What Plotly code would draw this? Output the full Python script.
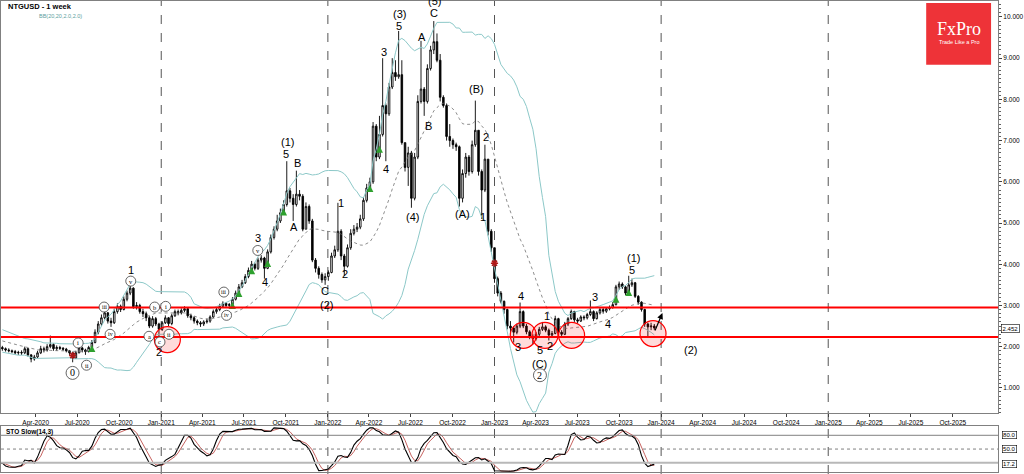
import plotly.graph_objects as go
import pandas as pd
import numpy as np

# ---------------- data (weekly NTGUSD) ----------------
# warm-up weeks before the visible window (for Bollinger / stochastic)
pre_close = [2.38, 2.32, 2.40, 2.28, 2.22, 2.30, 2.18, 2.12, 2.20, 2.08,
             2.15, 2.04, 2.10, 2.00, 2.06, 2.02, 1.97, 2.03, 1.98]
pre_high = [2.45, 2.42, 2.46, 2.42, 2.32, 2.36, 2.32, 2.22, 2.26, 2.22,
            2.20, 2.16, 2.14, 2.12, 2.10, 2.08, 2.05, 2.07, 2.06]
pre_low = [2.28, 2.26, 2.30, 2.24, 2.16, 2.20, 2.14, 2.06, 2.10, 2.03,
           2.05, 1.98, 2.02, 1.94, 1.98, 1.95, 1.90, 1.95, 1.93]

close = [1.95, 1.92, 1.90, 1.88, 1.85, 1.86, 1.85, 1.95, 1.80, 1.70,
         1.75, 1.85, 1.95, 1.92, 2.00, 2.05, 1.95, 1.98, 1.96, 1.94,
         1.90, 1.85, 1.72, 1.85, 1.97, 1.92, 1.88, 1.98, 2.10, 2.35,
         2.55, 2.70, 2.82, 2.62, 2.58, 2.85, 2.98, 2.90, 3.15, 3.30,
         3.42, 2.97, 3.00, 2.85, 2.80, 2.70, 2.50, 2.68, 2.55, 2.42,
         2.58, 2.70, 2.56, 2.75, 2.85, 2.82, 2.88, 2.92, 2.75, 2.70,
         2.62, 2.58, 2.55, 2.60, 2.62, 2.72, 2.85, 2.90, 2.98, 3.05,
         3.00, 3.02, 3.15, 3.30, 3.45, 3.55, 3.70, 3.85, 4.00, 3.90,
         4.10, 4.15, 3.90, 4.30, 4.65, 4.85, 5.05, 5.25, 5.45, 5.78,
         5.60, 5.45, 5.70, 5.65, 4.85, 5.40, 5.05, 4.10, 3.90, 3.75,
         3.62, 3.70, 3.80, 4.20, 4.35, 4.80, 4.20, 3.95, 4.40, 4.75,
         4.85, 4.90, 5.10, 5.55, 5.85, 6.00, 7.35, 6.60, 7.15, 7.85,
         7.65, 8.30, 8.65, 8.55, 8.60, 6.95, 6.35, 6.70, 5.60, 6.60,
         7.95, 8.25, 7.95, 8.75, 9.20, 9.40, 8.95, 8.05, 7.85, 7.10,
         7.00, 6.90, 6.85, 5.60, 6.20, 6.60, 6.25, 6.90, 7.25, 6.25,
         5.80, 6.55, 4.80, 4.40, 3.65, 3.30, 3.10, 2.90, 2.50, 2.45,
         2.35, 2.50, 2.85, 2.50, 2.36, 2.25, 2.20, 2.30, 2.42, 2.48,
         2.40, 2.28, 2.32, 2.68, 2.35, 2.30, 2.55, 2.68, 2.85, 2.65,
         2.62, 2.72, 2.70, 2.78, 2.85, 2.68, 2.82, 2.90, 2.86, 2.92,
         2.95, 3.02, 3.45, 3.52, 3.45, 3.30, 3.50, 3.55, 3.22, 3.08,
         2.90, 2.55, 2.48, 2.50, 2.452]

high = [2.02, 1.98, 1.96, 1.93, 1.92, 1.90, 1.91, 2.00, 1.97, 1.82,
        1.80, 1.90, 2.02, 2.00, 2.06, 2.27, 2.08, 2.03, 2.02, 1.99,
        1.97, 1.92, 1.88, 1.90, 2.05, 2.00, 1.95, 2.02, 2.16, 2.42,
        2.62, 2.78, 2.90, 2.84, 2.70, 2.92, 3.05, 3.02, 3.22, 3.36,
        3.50, 3.44, 3.08, 3.04, 2.92, 2.85, 2.74, 2.74, 2.72, 2.58,
        2.62, 2.76, 2.72, 2.80, 2.90, 2.90, 2.93, 2.98, 2.95, 2.80,
        2.74, 2.66, 2.62, 2.64, 2.68, 2.76, 2.90, 2.95, 3.04, 3.10,
        3.08, 3.06, 3.20, 3.36, 3.52, 3.62, 3.76, 3.92, 4.08, 4.04,
        4.16, 4.22, 4.18, 4.36, 4.72, 4.92, 5.20, 5.35, 5.55, 6.50,
        5.85, 5.70, 6.27, 5.80, 5.70, 5.50, 5.45, 5.10, 4.15, 3.95,
        3.80, 3.78, 3.85, 4.28, 4.45, 5.49, 4.85, 4.25, 4.48, 4.85,
        4.95, 5.00, 5.20, 5.62, 5.95, 6.10, 7.45, 7.40, 7.60, 9.00,
        7.90, 8.40, 9.00, 8.95, 9.66, 8.95, 6.95, 6.85, 6.75, 6.70,
        8.10, 9.42, 8.30, 8.85, 9.30, 9.90, 9.60, 9.10, 8.10, 7.90,
        7.40, 7.05, 6.95, 6.88, 6.30, 6.70, 6.65, 7.00, 7.97, 7.25,
        6.30, 6.90, 6.55, 4.85, 4.40, 3.70, 3.35, 3.12, 2.92, 2.62,
        2.50, 2.56, 3.07, 2.88, 2.55, 2.40, 2.30, 2.35, 2.48, 2.60,
        2.52, 2.44, 2.38, 2.75, 2.70, 2.40, 2.60, 2.72, 2.90, 2.87,
        2.70, 2.76, 2.76, 2.82, 3.12, 2.88, 2.86, 2.95, 2.94, 2.96,
        3.00, 3.08, 3.50, 3.58, 3.56, 3.48, 3.72, 3.65, 3.57, 3.25,
        3.10, 2.92, 2.58, 2.58, 2.55]

low = [1.90, 1.88, 1.86, 1.84, 1.81, 1.80, 1.80, 1.82, 1.76, 1.62,
       1.66, 1.72, 1.82, 1.86, 1.88, 1.96, 1.90, 1.90, 1.92, 1.90,
       1.86, 1.80, 1.62, 1.70, 1.84, 1.86, 1.80, 1.86, 1.96, 2.08,
       2.30, 2.50, 2.66, 2.56, 2.48, 2.55, 2.80, 2.84, 2.88, 3.10,
       3.25, 2.92, 2.90, 2.80, 2.72, 2.62, 2.45, 2.46, 2.50, 2.25,
       2.38, 2.55, 2.50, 2.52, 2.72, 2.76, 2.78, 2.84, 2.70, 2.64,
       2.56, 2.52, 2.48, 2.50, 2.56, 2.58, 2.70, 2.80, 2.86, 2.94,
       2.95, 2.92, 3.00, 3.12, 3.26, 3.42, 3.52, 3.66, 3.82, 3.85,
       3.86, 4.04, 3.65, 3.88, 4.26, 4.60, 4.80, 5.00, 5.20, 5.40,
       5.50, 5.05, 5.40, 5.55, 4.80, 4.85, 4.98, 4.05, 3.80, 3.65,
       3.55, 3.50, 3.60, 3.78, 4.15, 4.30, 4.10, 3.72, 3.92, 4.35,
       4.70, 4.78, 4.85, 5.05, 5.50, 5.80, 5.95, 6.50, 6.55, 7.10,
       6.50, 7.60, 8.25, 8.45, 8.50, 6.90, 6.25, 5.90, 5.37, 5.55,
       6.55, 7.90, 7.60, 7.90, 8.70, 9.10, 8.90, 7.95, 7.80, 7.00,
       6.85, 6.80, 6.75, 5.40, 5.50, 6.10, 6.15, 6.20, 6.85, 6.15,
       5.10, 5.75, 4.70, 4.30, 3.55, 3.22, 3.05, 2.80, 2.42, 2.35,
       2.10, 2.30, 2.45, 2.45, 2.30, 2.18, 2.05, 2.15, 2.25, 2.38,
       2.35, 2.15, 2.22, 2.30, 2.30, 2.22, 2.28, 2.50, 2.65, 2.60,
       2.56, 2.60, 2.64, 2.66, 2.74, 2.62, 2.66, 2.78, 2.80, 2.82,
       2.88, 2.92, 3.00, 3.38, 3.40, 3.25, 3.28, 3.45, 3.18, 3.02,
       2.85, 2.48, 2.22, 2.40, 2.40]

last_bar = "2023-12-17"
levels = [2.95, 2.235]                       # red horizontal lines
buy_signal_idx = [28, 72, 74, 78, 83, 88, 115, 118, 192, 196]
sell_signal_idx = [22, 154]
date_ticks = pd.date_range("2020-04-01", "2025-10-01", freq="QS")
year_lines = ["2021-01-01", "2022-01-01", "2023-01-01", "2024-01-01", "2025-01-01"]

# ---------------- derived series ----------------
c_all = pd.Series(pre_close + close, dtype=float)
h_all = pd.Series(pre_high + high, dtype=float)
l_all = pd.Series(pre_low + low, dtype=float)
o_all = c_all.shift(1)
o_all.iloc[0] = c_all.iloc[0]
h_all = pd.concat([h_all, o_all, c_all], axis=1).max(axis=1)
l_all = pd.concat([l_all, o_all, c_all], axis=1).min(axis=1)
dates = pd.date_range(end=last_bar, periods=len(c_all), freq="7D")

mid = c_all.rolling(20).mean()
sd = c_all.rolling(20).std(ddof=0)
upper = mid + 2 * sd
lower = mid - 2 * sd

ll = l_all.rolling(14).min()
hh = h_all.rolling(14).max()
fast_k = 100 * (c_all - ll) / (hh - ll)
slow_k = fast_k.rolling(3).mean()
slow_d = slow_k.rolling(3).mean()

npre = len(pre_close)

# ---------------- figure ----------------
W, H = 1024, 474
PLOT_R = 999 / W
MAIN_BOTTOM = 413
X0 = pd.Timestamp("2020-01-16")
X1 = pd.Timestamp("2026-01-08")
PX_PER_DAY = 999 / (X1 - X0).days
Y_TOP = 10.387
PX_PER_UNIT = 41.3


def at(px, py):
    """pixel position in the main panel -> (date, price)"""
    d = X0 + pd.Timedelta(days=px / PX_PER_DAY)
    return d.strftime("%Y-%m-%d %H:%M"), Y_TOP - py / PX_PER_UNIT


fig = go.Figure()

band_col = "#8cc8c8"
fig.add_trace(go.Scatter(x=dates, y=upper, mode="lines", line=dict(color=band_col, width=1),
                         hoverinfo="skip", showlegend=False))
fig.add_trace(go.Scatter(x=dates, y=lower, mode="lines", line=dict(color=band_col, width=1),
                         hoverinfo="skip", showlegend=False))
fig.add_trace(go.Scatter(x=dates, y=mid, mode="lines", line=dict(color="#707070", width=0.8, dash="dot"),
                         hoverinfo="skip", showlegend=False))

fig.add_trace(go.Candlestick(
    x=dates, open=o_all, high=h_all, low=l_all, close=c_all,
    increasing=dict(line=dict(color="#000000", width=0.9), fillcolor="#ffffff"),
    decreasing=dict(line=dict(color="#000000", width=0.9), fillcolor="#000000"),
    whiskerwidth=0, showlegend=False, hoverinfo="skip"))

bi = [npre + i for i in buy_signal_idx]
si = [npre + i for i in sell_signal_idx]
fig.add_trace(go.Scatter(
    x=dates[bi], y=((o_all + c_all) / 2).iloc[bi], mode="markers",
    marker=dict(symbol="arrow-up", size=7, color="#2ea02e", line=dict(width=0)),
    showlegend=False, hoverinfo="skip"))
fig.add_trace(go.Scatter(
    x=dates[si], y=((o_all + c_all) / 2).iloc[si], mode="markers",
    marker=dict(symbol="asterisk", size=6, color="#b01818", line=dict(width=1.5, color="#b01818")),
    showlegend=False, hoverinfo="skip"))

# stochastic panel
fig.add_trace(go.Scatter(x=dates, y=slow_d, mode="lines", line=dict(color="#c0504d", width=0.9),
                         xaxis="x2", yaxis="y2", showlegend=False, hoverinfo="skip"))
fig.add_trace(go.Scatter(x=dates, y=slow_k, mode="lines", line=dict(color="#000000", width=1.1),
                         xaxis="x2", yaxis="y2", showlegend=False, hoverinfo="skip"))

shapes = []
# yearly dashed separators
for yr in year_lines:
    shapes.append(dict(type="line", xref="x", yref="paper", x0=yr, x1=yr, y0=0, y1=1,
                       line=dict(color="#555555", width=1, dash="dash"), layer="below"))
# stochastic levels
shapes.append(dict(type="line", xref="paper", yref="y2", x0=0, x1=PLOT_R, y0=80, y1=80,
                   line=dict(color="#808080", width=1)))
shapes.append(dict(type="line", xref="paper", yref="y2", x0=0, x1=PLOT_R, y0=50, y1=50,
                   line=dict(color="#808080", width=1, dash="dot")))
shapes.append(dict(type="line", xref="paper", yref="y2", x0=0, x1=PLOT_R, y0=20, y1=20,
                   line=dict(color="#b8b8b8", width=2)))
# red key levels
for lv in levels:
    shapes.append(dict(type="line", xref="paper", yref="y", x0=0, x1=PLOT_R, y0=lv, y1=lv,
                       line=dict(color="#ff0000", width=2)))

# red highlight circles
red_circles = [(166.7, 339.3), (523.3, 335), (545, 335), (571.7, 335), (653.3, 333.3)]
for (cx, cy) in red_circles:
    dx, dy = at(cx, cy)
    shapes.append(dict(type="circle", xref="x", yref="y", xsizemode="pixel", ysizemode="pixel",
                       xanchor=dx, yanchor=dy, x0=-13, x1=13, y0=-13, y1=13,
                       line=dict(color="#ff0000", width=1.2), fillcolor="rgba(255,0,0,0.14)"))

annotations = []
# circled wave labels
circled = [("0", 71.7, 372.7, 6.5, 10), ("i", 77.3, 342.7, 5, 6.5), ("ii", 85.7, 365, 5, 6.5),
           ("iii", 103.3, 306.7, 5, 6), ("iv", 109.3, 334, 5, 6), ("v", 130, 280.7, 5, 6.5),
           ("a", 148.3, 336, 5, 6.5), ("b", 154, 306.7, 5, 6.5), ("c", 159.3, 341.7, 5, 6.5),
           ("i", 165, 306, 5, 6.5), ("ii", 168.3, 334, 5, 6.5), ("iii", 223.3, 291.7, 5, 6),
           ("iv", 226, 315, 5, 6), ("v", 257.3, 250, 5, 6.5), ("2", 540, 375, 6.5, 10)]
for (t, cx, cy, r, fs) in circled:
    dx, dy = at(cx, cy)
    shapes.append(dict(type="circle", xref="x", yref="y", xsizemode="pixel", ysizemode="pixel",
                       xanchor=dx, yanchor=dy, x0=-r, x1=r, y0=-r, y1=r,
                       line=dict(color="#404040", width=0.8), fillcolor="#ffffff"))
    annotations.append(dict(x=dx, y=dy, xref="x", yref="y", text=t, showarrow=False,
                            font=dict(family="Liberation Serif", size=fs, color="#000000")))

# plain wave labels
waves = [("1", 130, 269.3), ("2", 158.3, 351.7), ("3", 257.3, 237.3), ("4", 264.3, 281.7),
         ("5", 286, 153.3), ("(1)", 286.7, 141.7), ("B", 296.7, 162.7), ("A", 293.3, 226.7),
         ("C", 325, 290.7), ("(2)", 326, 304.3), ("1", 341, 202.7), ("2", 344.3, 274),
         ("3", 383.3, 50.7), ("4", 386, 168.3), ("5", 399, 25), ("(3)", 399, 13.3),
         ("(4)", 412.3, 216.7), ("A", 421.7, 36), ("B", 428.3, 125), ("C", 434.3, 11.7),
         ("(A)", 462.3, 213.3), ("(B)", 476, 88.3), ("2", 485.7, 136.7), ("1", 483.3, 216.7),
         ("3", 518.3, 346.7), ("4", 520.7, 296), ("5", 540, 350), ("1", 546.7, 316),
         ("2", 550, 346), ("(C)", 540, 363.3), ("3", 595, 296.7), ("4", 608.3, 323.3),
         ("5", 632.7, 270), ("(1)", 633.3, 257.3), ("(2)", 690.7, 350)]
for (t, cx, cy) in waves:
    dx, dy = at(cx, cy)
    annotations.append(dict(x=dx, y=dy, xref="x", yref="y", text=t, showarrow=False,
                            font=dict(family="Liberation Sans", size=11, color="#000000")))
# top label partly cut off in the reference
annotations.append(dict(x=at(434.3, 0)[0], y=1.0, xref="x", yref="paper", text="(5)",
                        showarrow=False, yanchor="middle",
                        font=dict(family="Liberation Sans", size=11, color="#000000")))

# projected arrow
tip = at(662.7, 312.7)
annotations.append(dict(x=tip[0], y=tip[1], xref="x", yref="y", text="", showarrow=True,
                        ax=-8, ay=19, arrowhead=2, arrowsize=1, arrowwidth=1.2,
                        arrowcolor="#000000"))

# titles
annotations.append(dict(x=5 / W, y=1 - 6 / H, xref="paper", yref="paper", text="<b>NTGUSD - 1 week</b>",
                        showarrow=False, xanchor="left", yanchor="middle",
                        font=dict(family="Liberation Sans", size=7.5, color="#000000")))
annotations.append(dict(x=36 / W, y=1 - 15.5 / H, xref="paper", yref="paper", text="BB(20,20,2.0,2.0)",
                        showarrow=False, xanchor="left", yanchor="middle",
                        font=dict(family="Liberation Sans", size=5.5, color="#5a9e9e")))
annotations.append(dict(x=3 / W, y=1 - 432 / H, xref="paper", yref="paper", text="<b>STO Slow(14,3)</b>",
                        showarrow=False, xanchor="left", yanchor="middle",
                        font=dict(family="Liberation Sans", size=6.5, color="#000000")))

# price / indicator value boxes on the right axis
annotations.append(dict(x=1002 / W, y=close[-1], xref="paper", yref="y", text=f"{close[-1]:.3f}",
                        showarrow=False, xanchor="left", yanchor="middle", bgcolor="#ffffff",
                        bordercolor="#000000", borderwidth=0.6, borderpad=1,
                        font=dict(family="Liberation Sans", size=6, color="#000000")))
for v in [80.0, 50.0, float(slow_k.iloc[-1])]:
    annotations.append(dict(x=1003 / W, y=v, xref="paper", yref="y2", text=f"{v:.1f}",
                            showarrow=False, xanchor="left", yanchor="middle", bgcolor="#ffffff",
                            bordercolor="#000000", borderwidth=0.6, borderpad=0.5,
                            font=dict(family="Liberation Sans", size=6, color="#000000")))

# FxPro logo
shapes.append(dict(type="rect", xref="paper", yref="paper", x0=927 / W, x1=992 / W,
                   y0=1 - 64 / H, y1=1 - 2 / H, fillcolor="#ee3338", line=dict(width=0)))
annotations.append(dict(x=959.5 / W, y=1 - 28 / H, xref="paper", yref="paper", text="FxPro",
                        showarrow=False, xanchor="center", yanchor="middle",
                        font=dict(family="Liberation Serif", size=18, color="#ffffff")))
annotations.append(dict(x=959.5 / W, y=1 - 41 / H, xref="paper", yref="paper", text="Trade Like a Pro",
                        showarrow=False, xanchor="center", yanchor="middle",
                        font=dict(family="Liberation Sans", size=5.5, color="#ffffff")))

axis_line = "#808080"
fig.update_layout(
    width=W, height=H,
    margin=dict(l=0, r=0, t=0, b=0),
    paper_bgcolor="#ffffff", plot_bgcolor="#ffffff",
    font=dict(family="Liberation Sans", size=6, color="#000000"),
    showlegend=False,
    xaxis=dict(domain=[0, PLOT_R], range=[X0, X1], anchor="y", type="date",
               rangeslider=dict(visible=False), showgrid=False, zeroline=False,
               showline=True, mirror=True, linecolor=axis_line, linewidth=1,
               ticks="outside", ticklen=3, tickcolor="#404040",
               tickvals=list(date_ticks), tickformat="%b-%Y",
               tickfont=dict(size=6.5, family="Liberation Sans")),
    yaxis=dict(domain=[1 - MAIN_BOTTOM / H, 1], range=[Y_TOP - MAIN_BOTTOM / PX_PER_UNIT, Y_TOP],
               side="right", anchor="x", showgrid=False, zeroline=False,
               showline=True, mirror=True, linecolor=axis_line, linewidth=1,
               ticks="outside", ticklen=3, tickcolor="#404040", dtick=1, tick0=0,
               tickformat=".3f", tickfont=dict(size=6.5, family="Liberation Sans"),
               minor=dict(ticks="outside", ticklen=2, dtick=0.1, tickcolor="#606060")),
    xaxis2=dict(domain=[0, PLOT_R], matches="x", anchor="y2", showticklabels=False,
                showgrid=False, zeroline=False, showline=True, mirror=True,
                linecolor=axis_line, linewidth=1, ticks=""),
    yaxis2=dict(domain=[2 / H, 48 / H], range=[0, 100], side="right", anchor="x2",
                showgrid=False, zeroline=False, showline=True, mirror=True,
                linecolor=axis_line, linewidth=1, showticklabels=False, ticks=""),
    shapes=shapes,
    annotations=annotations,
)

fig.write_html("out.html", config={"displayModeBar": False},
               post_script="document.body.style.margin='0px';document.body.style.overflow='hidden';")
